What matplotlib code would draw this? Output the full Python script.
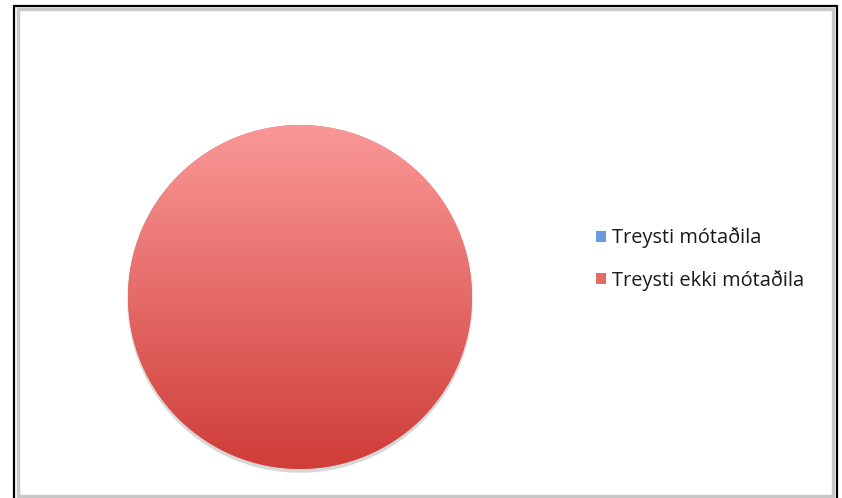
import matplotlib.pyplot as plt
import matplotlib.patches as mpatches
from matplotlib.colors import LinearSegmentedColormap
import numpy as np

labels = ['Treysti mótaðila', 'Treysti ekki mótaðila']
values = [0, 100]
colors = ['#6A9BE0', '#E56A66']
grad_top = '#FA9897'
grad_bottom = '#CF3D38'

plt.rcParams['font.family'] = ['Open Sans', 'DejaVu Sans']

W, H = 842, 498
fig = plt.figure(figsize=(W / 100, H / 100), dpi=100)

# outer frame: black rule with a soft grey inner rule
fig.patches.append(mpatches.Rectangle((14.5 / W, -0.05), (836.5 - 14.5) / W, (H - 5.5) / H + 0.05,
                                      transform=fig.transFigure, fill=False, ec='black', lw=1.6))
fig.patches.append(mpatches.Rectangle((18 / W, 2 / H), (833 - 18) / W, (H - 9 - 2) / H,
                                      transform=fig.transFigure, fill=False, ec='#c8c8c8', lw=2.5))

# pie axes: center at (300, 297) px, radius 172 px
r_px = 172
half = 180
cx, cy = 300, H - 297
ax = fig.add_axes([(cx - half) / W, (cy - half) / H, 2 * half / W, 2 * half / H])
lim = half / r_px

# soft shadow under the pie
for i, a in enumerate([0.05, 0.05, 0.06]):
    ax.add_patch(mpatches.Circle((0, -0.012 - 0.006 * i), 1.0 + 0.004 * (2 - i),
                                 fc='black', ec='none', alpha=a, zorder=0))

wedges, _ = ax.pie(values, colors=colors, startangle=90, counterclock=False,
                   radius=1, center=(0, 0), frame=True)
ax.set_xlim(-lim, lim)
ax.set_ylim(-lim, lim)
ax.set_aspect('equal')
ax.axis('off')

# vertical gradient fill clipped to each visible wedge
cmap = LinearSegmentedColormap.from_list('redgrad', [grad_bottom, grad_top])
grad = np.linspace(0, 1, 256).reshape(-1, 1)
for w, v in zip(wedges, values):
    if v == 0:
        continue
    im = ax.imshow(grad, cmap=cmap, origin='lower', extent=[-1, 1, -1, 1],
                   aspect='auto', zorder=3)
    im.set_clip_path(w)

leg = fig.legend(wedges, labels, loc='center left',
                 bbox_to_anchor=(586 / W, (H - 259) / H), frameon=False,
                 fontsize=14.4, handlelength=0.48, handleheight=0.48,
                 handletextpad=0.3, labelspacing=1.08, borderpad=0)
for t in leg.get_texts():
    t.set_color('#1a1a1a')

fig.savefig('out.png', dpi=100)
